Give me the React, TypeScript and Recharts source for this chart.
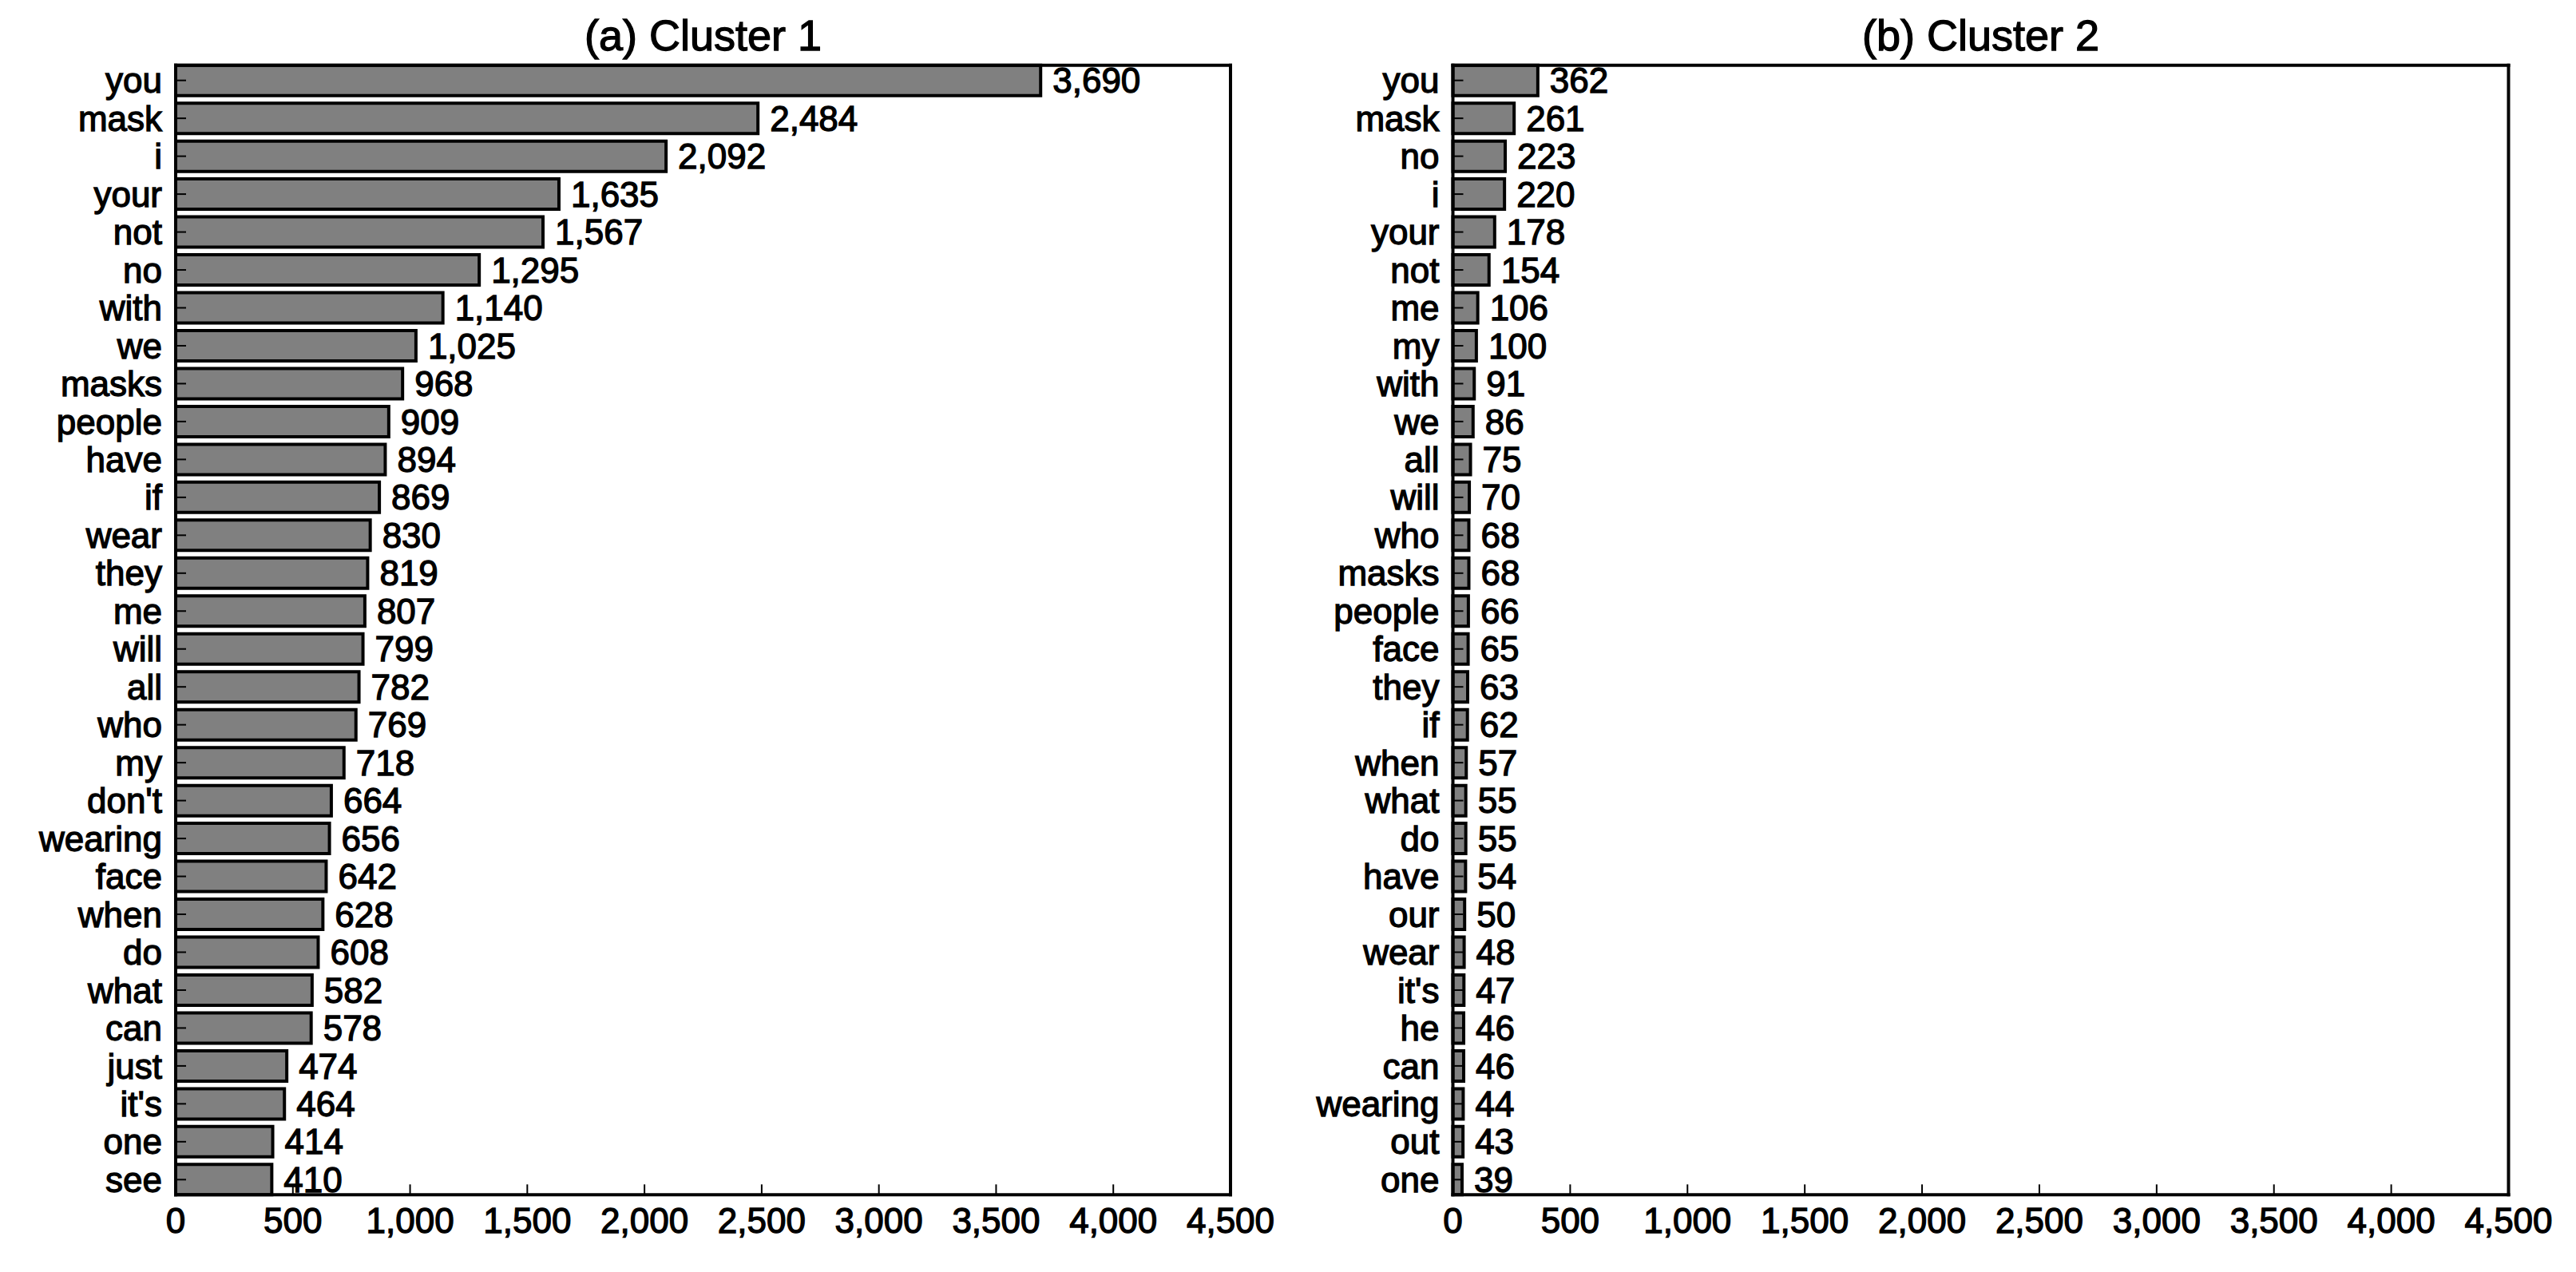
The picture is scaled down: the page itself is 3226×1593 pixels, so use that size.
import { BarChart, Bar, XAxis, YAxis, LabelList } from "recharts";

const words1 = ["you", "mask", "i", "your", "not", "no", "with", "we", "masks", "people", "have", "if", "wear", "they", "me", "will", "all", "who", "my", "don't", "wearing", "face", "when", "do", "what", "can", "just", "it's", "one", "see"];
const counts1 = [3690, 2484, 2092, 1635, 1567, 1295, 1140, 1025, 968, 909, 894, 869, 830, 819, 807, 799, 782, 769, 718, 664, 656, 642, 628, 608, 582, 578, 474, 464, 414, 410];

const words2 = ["you", "mask", "no", "i", "your", "not", "me", "my", "with", "we", "all", "will", "who", "masks", "people", "face", "they", "if", "when", "what", "do", "have", "our", "wear", "it's", "he", "can", "wearing", "out", "one"];
const counts2 = [362, 261, 223, 220, 178, 154, 106, 100, 91, 86, 75, 70, 68, 68, 66, 65, 63, 62, 57, 55, 55, 54, 50, 48, 47, 46, 46, 44, 43, 39];

const xTicks = [0, 500, 1000, 1500, 2000, 2500, 3000, 3500, 4000, 4500];
const titles = ["(a) Cluster 1", "(b) Cluster 2"];

const FONT = '"Liberation Sans", Arial, Helvetica, sans-serif';
const W = 3226;
const H = 1593;
const PANEL_W = 1613;
const TOP = 81.7;
const BOTTOM = 1496.3;

const fmt = (v: number) => v.toLocaleString("en-US");
const frame = { stroke: "#000", strokeWidth: 4, strokeLinecap: "square" as const };
const tickLine = { stroke: "#000", strokeWidth: 2 };
// the source text is rendered heavy, a thin outline thickens the glyphs
const tickStyle = { fill: "#000", fontSize: 44, fontFamily: FONT, stroke: "#000", strokeWidth: 1.3 };
const bandPad = { top: -4.75, bottom: -4.75 };

function Panel({ words, counts, left, plotLeft, plotRight }: any) {
  const data = words.map((w: string, i: number) => ({ word: w, count: counts[i] }));
  const marginLeft = plotLeft - left - 200;
  const marginRight = left + PANEL_W - plotRight - 1;
  return (
    <div style={{ position: "absolute", left, top: 0 }}>
      <BarChart
        layout="vertical"
        width={PANEL_W}
        height={H}
        data={data}
        margin={{ top: TOP - 1, bottom: H - BOTTOM - 60, left: marginLeft, right: marginRight }}
        barCategoryGap="10%"
      >
        <XAxis
          type="number"
          domain={[0, 4500]}
          ticks={xTicks}
          tickFormatter={fmt}
          height={60}
          axisLine={frame}
          tickLine={tickLine}
          tickSize={-13}
          tickMargin={29}
          tick={tickStyle}
          interval={0}
        />
        <XAxis
          xAxisId="top"
          orientation="top"
          type="number"
          domain={[0, 4500]}
          ticks={xTicks}
          height={1}
          axisLine={frame}
          tickLine={tickLine}
          tickSize={-13}
          tick={false}
          interval={0}
        />
        <YAxis
          type="category"
          dataKey="word"
          width={200}
          axisLine={frame}
          tickLine={tickLine}
          tickSize={-13}
          tickMargin={30}
          tick={tickStyle}
          interval={0}
          padding={bandPad}
        />
        <YAxis
          yAxisId="right"
          orientation="right"
          type="category"
          dataKey="word"
          width={1}
          axisLine={frame}
          tickLine={tickLine}
          tickSize={-13}
          tick={false}
          interval={0}
          padding={bandPad}
        />
        <Bar dataKey="count" fill="#808080" stroke="#000" strokeWidth={4} isAnimationActive={false}>
          <LabelList
            dataKey="count"
            position="right"
            offset={15}
            formatter={(v: any) => fmt(Number(v))}
            fill="#000"
            stroke="#000"
            strokeWidth={1.3}
            fontSize={44}
            fontFamily={FONT}
          />
        </Bar>
      </BarChart>
    </div>
  );
}

export default function App() {
  return (
    <div style={{ position: "absolute", left: 0, top: 0, width: W, height: H, background: "#fff" }}>
      <Panel words={words1} counts={counts1} left={0} plotLeft={220} plotRight={1541} />
      <Panel words={words2} counts={counts2} left={PANEL_W} plotLeft={1819.5} plotRight={3141.5} />
      <svg width={W} height={100} style={{ position: "absolute", left: 0, top: 0 }}>
        <text x={880.5} y={63} textAnchor="middle" fontSize={54} fontFamily={FONT} fill="#000" stroke="#000" strokeWidth={1.3}>
          {titles[0]}
        </text>
        <text x={2480.5} y={63} textAnchor="middle" fontSize={54} fontFamily={FONT} fill="#000" stroke="#000" strokeWidth={1.3}>
          {titles[1]}
        </text>
      </svg>
    </div>
  );
}
